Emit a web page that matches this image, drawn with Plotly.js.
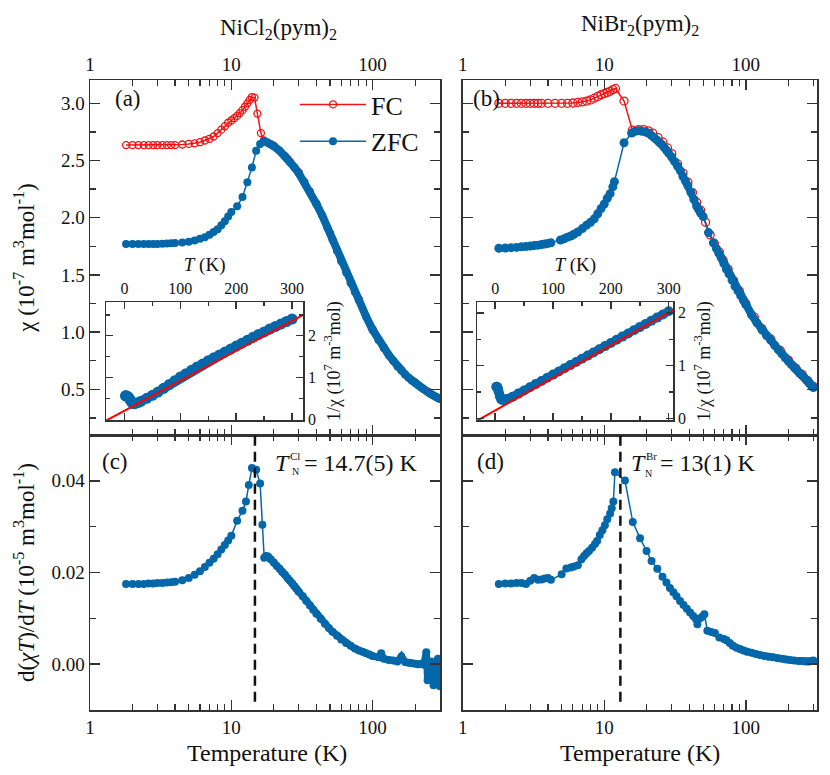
<!DOCTYPE html>
<html>
<head>
<meta charset="utf-8">
<script src="https://cdn.plot.ly/plotly-3.0.1.min.js"></script>
<style>body{margin:0;background:#fff}</style>
</head>
<body>
<div id="myPlot" style="width:830px;height:775px;"></div>
<script>
// NiCl2(pym)2 -- chi (1e-7 m^3/mol) vs T (K)
var tFcCl = [1.8,2.0,2.2,2.4,2.6,2.8,3.0,3.25,3.5,3.75,4.0,4.5,5.0,5.5,6.0,6.5,7.0,7.5,8.0,8.5,9.0,9.5,10,10.5,11,11.5,12,12.5,13,13.5,14,14.6,15.3,16.2,17,20,25,30,40,50,60,70,80,100,120,150,200,250,300];
var chiFcCl = [2.635,2.635,2.635,2.635,2.635,2.635,2.635,2.635,2.635,2.635,2.635,2.64,2.645,2.65,2.66,2.675,2.69,2.71,2.74,2.77,2.80,2.83,2.85,2.87,2.89,2.915,2.94,2.97,3.00,3.03,3.055,3.05,2.91,2.74,2.675,2.63,2.515,2.395,2.125,1.865,1.625,1.435,1.285,1.025,0.865,0.705,0.56,0.475,0.42];
var tZfcCl = [1.8,2.0,2.2,2.4,2.6,2.8,3.0,3.25,3.5,3.75,4.0,4.5,5.0,5.5,6.0,6.5,7.0,7.5,8.0,8.5,9.0,9.5,10,11,12,13,14,15,16,17,18,19,20,22,24,26,28,30,33,36,40,44,48,52,56,60,65,70,75,80,90,100,110,120,130,140,150,160,170,180,190,200,210,220,230,240,250,260,270,280,290,300];
var chiZfcCl = [1.77,1.77,1.77,1.77,1.77,1.77,1.77,1.772,1.774,1.776,1.778,1.783,1.79,1.80,1.815,1.83,1.85,1.875,1.90,1.935,1.97,2.01,2.05,2.10,2.18,2.31,2.44,2.585,2.645,2.67,2.66,2.645,2.625,2.585,2.54,2.49,2.44,2.39,2.31,2.23,2.12,2.02,1.91,1.81,1.71,1.62,1.52,1.43,1.35,1.28,1.135,1.02,0.93,0.86,0.80,0.75,0.70,0.665,0.63,0.60,0.575,0.555,0.535,0.515,0.50,0.485,0.47,0.457,0.445,0.434,0.424,0.415];

// NiBr2(pym)2
var tFcBr = [1.8,2.0,2.2,2.4,2.6,2.8,3.0,3.2,3.4,3.6,4.0,4.5,5.0,5.5,6.0,6.5,7.0,7.5,8.0,8.5,9.0,9.5,10,10.5,11,11.5,12,13.8,15.8,17.5,19,20.5,22,24,26,28,30,33,36,39,42,45,48,52,56,60,65,69,75,82,90,100,115,130,150,175,200,225,250,275,300];
var chiFcBr = [3.0,3.0,3.0,3.0,3.0,3.0,3.0,3.0,3.0,3.0,3.0,3.0,3.0,3.0,3.003,3.008,3.013,3.02,3.03,3.045,3.06,3.075,3.085,3.095,3.105,3.12,3.13,3.02,2.765,2.77,2.77,2.76,2.74,2.70,2.66,2.61,2.56,2.47,2.39,2.31,2.22,2.135,2.065,1.96,1.85,1.775,1.70,1.63,1.55,1.45,1.36,1.25,1.13,1.03,0.94,0.84,0.755,0.685,0.63,0.575,0.525];
var tZfcBr = [1.8,2.0,2.2,2.4,2.6,2.8,3.0,3.2,3.4,3.6,3.8,4.0,4.2,4.9,5.2,5.5,5.8,6.1,6.5,7.0,7.5,8.0,8.5,9.0,9.5,10,10.5,11,11.5,11.8,13.8,15.6,16.5,17.5,18.5,19.5,20.5,21.5,22.5,23.5,24.5,25.5,26.5,27.5,28.5,30,31.5,33,34.5,36,37.5,39,41,43,45,46.5,48,50,54.5,59,62,64.5,67,70,73,76,80,84,88,92,96,100,110,120,130,140,150,160,170,180,190,200,210,220,230,240,250,260,270,280,290,300];
var chiZfcBr = [1.733,1.735,1.738,1.74,1.745,1.748,1.752,1.756,1.76,1.765,1.77,1.775,1.78,1.805,1.815,1.83,1.84,1.855,1.875,1.905,1.935,1.96,1.99,2.035,2.08,2.12,2.17,2.21,2.27,2.315,2.655,2.74,2.755,2.76,2.755,2.75,2.74,2.72,2.70,2.68,2.66,2.64,2.615,2.59,2.565,2.53,2.49,2.45,2.41,2.36,2.32,2.28,2.22,2.16,2.10,2.07,2.04,2.01,1.87,1.78,1.73,1.69,1.65,1.60,1.55,1.51,1.455,1.40,1.36,1.32,1.28,1.24,1.15,1.08,1.02,0.97,0.93,0.885,0.845,0.81,0.775,0.745,0.715,0.69,0.665,0.64,0.62,0.60,0.575,0.555,0.535,0.515];

// d(chi T)/dT (1e-5 m^3/mol)
var tDerCl = [1.8,2.0,2.2,2.4,2.6,2.8,3.0,3.25,3.5,3.75,4.0,4.5,5.0,5.5,6.0,6.5,7.0,7.5,8.0,8.5,9.0,9.5,10,11,12,12.7,13.3,14,15,16,16.6,17.1,17.6,18.2,19,20,21,22,23,24,25,26,27,28,29,30,32,34,36,38,40,43,46,49,52,56,60,65,70,75,80,85,90,95,100,110,115,120,130,140,150,160,170,180,190,200,210,220,230,240,245,250,260,270,280,290,300];
var dchiCl = [.0175,.0175,.0175,.0175,.0176,.0176,.0177,.0177,.0178,.0179,.0180,.0183,.0188,.0195,.0203,.0212,.0221,.0230,.0240,.0250,.0260,.0270,.0280,.0313,.0335,.0355,.0391,.0428,.0424,.0394,.0304,.0232,.0236,.0235,.0229,.0222,.0214,.0208,.0201,.0195,.0188,.0182,.0176,.0170,.0164,.0158,.0148,.0138,.0128,.0119,.0110,.0099,.0088,.0079,.0071,.0062,.0054,.0046,.0040,.0034,.0030,.0027,.0024,.0021,.0018,.0015,.0024,.0012,.0009,.0008,.0006,.0017,.0005,.0003,.0002,.0001,.0000,.0001,-.0001,.0026,-.0035,-.0004,.0006,-.0046,.0003,.0012,-.0048];
var tDerBr = [1.8,2.0,2.2,2.4,2.6,2.8,3.0,3.2,3.4,3.6,3.8,4.0,4.2,5.0,5.4,5.8,6.1,6.5,6.9,7.2,7.5,7.8,8.2,8.6,8.9,9.3,9.7,10.1,10.5,11.0,11.3,11.6,11.9,14.0,15.9,17.9,19.9,21.6,23.7,25.8,27.5,29.1,30.8,32.4,34.3,36.3,38.3,40.4,42.5,44.5,45.5,47.5,49.5,51,53.5,57,60.5,65,70,73,77,81,86,91,96,102,110,118,126,135,145,156,168,180,193,205,220,235,250,265,280,290,300];
var dchiBr = [.0175,.0176,.0176,.0177,.0177,.0175,.0182,.0188,.0184,.0185,.0187,.0188,.0184,.0196,.0209,.0211,.0213,.0216,.0229,.0236,.0242,.0247,.0254,.0262,.0269,.0282,.0292,.0303,.0316,.0329,.0340,.0355,.0419,.0401,.0310,.0275,.0247,.0225,.0208,.0191,.0178,.0166,.0157,.0148,.0138,.0129,.0121,.0113,.0105,.0098,.0087,.0100,.0104,.0109,.0073,.0070,.0068,.0058,.0055,.0052,.0046,.0040,.0036,.0033,.0030,.0027,.0025,.0022,.0020,.0018,.0016,.0015,.0013,.0012,.0010,.0009,.0008,.0007,.0007,.0006,.0006,.0007,.0008];
var TN_CL = 14.7;
var TN_BR = 13;

// insets: 1/chi (1e7 mol/m^3) vs T, with Curie-Weiss fits
var tInvCl = [1.8,3,5,7,9,11,13,15,17,20,25,30,40,50,60,70,80,90,100,110,120,130,140,150,160,170,180,190,200,210,220,230,240,250,260,270,280,290,300];
var invChiCl = [0.56,0.56,0.55,0.53,0.49,0.45,0.41,0.375,0.37,0.38,0.40,0.43,0.50,0.57,0.65,0.74,0.83,0.92,1.01,1.09,1.17,1.25,1.32,1.40,1.47,1.54,1.61,1.68,1.75,1.82,1.89,1.96,2.03,2.09,2.16,2.22,2.28,2.34,2.40];
var fitClT = [-33, 320];
var fitClY = [-0.036, 2.50];
var tInvBr = [1.8,3,4,5,6,8,10,12,15,20,30,40,50,60,70,80,90,100,110,120,130,140,150,160,170,180,190,200,210,220,230,240,250,260,270,280,290,300];
var invChiBr = [0.60,0.60,0.58,0.55,0.50,0.42,0.37,0.35,0.35,0.37,0.41,0.47,0.53,0.59,0.65,0.71,0.77,0.83,0.89,0.95,1.01,1.07,1.13,1.19,1.25,1.31,1.37,1.43,1.49,1.55,1.61,1.67,1.73,1.79,1.85,1.91,1.97,2.03];
var fitBrT = [-31, 308];
var fitBrY = [-0.04, 2.05];

var logMajor = [1, 10, 100];
var logMinor = [2,3,4,5,6,7,8,9,20,30,40,50,60,70,80,90,200,300];

var FONT = "'Liberation Serif', 'Times New Roman', serif";
var RED = "#f01414";
var BLUE = "#0467a9";
var W = 830, H = 775;

function px(x) { return x / W; }
function py(y) { return 1 - y / H; }

// thick line under the densely measured part of a curve (overlapping markers)
function band(t, v, lo, hi, xa, ya, w) {
  var bx = [], by = [];
  for (var i = 0; i < t.length; i++) {
    if (t[i] >= lo && t[i] <= hi) { bx.push(t[i]); by.push(v[i]); }
  }
  return { x: bx, y: by, xaxis: xa, yaxis: ya, mode: "lines", showlegend: false,
    line: { color: BLUE, width: w } };
}

var data = [
  // (a)
  { x: tFcCl, y: chiFcCl, xaxis: "x", yaxis: "y", name: "FC", mode: "lines+markers",
    line: { color: RED, width: 1.5 },
    marker: { symbol: "circle-open", size: 7, color: RED, line: { width: 1.3 } } },
  band(tZfcCl, chiZfcCl, 17, 300, "x", "y", 8),
  { x: tZfcCl, y: chiZfcCl, xaxis: "x", yaxis: "y", name: "ZFC", mode: "lines+markers",
    line: { color: BLUE, width: 1.5 }, marker: { size: 8, color: BLUE } },
  // (b)
  { x: tFcBr, y: chiFcBr, xaxis: "x3", yaxis: "y3", mode: "lines+markers", showlegend: false,
    line: { color: RED, width: 1.5 },
    marker: { symbol: "circle-open", size: 8, color: RED, line: { width: 1.3 } } },
  band(tZfcBr, chiZfcBr, 15.6, 46.5, "x3", "y3", 7),
  band(tZfcBr, chiZfcBr, 64.5, 300, "x3", "y3", 8),
  { x: tZfcBr, y: chiZfcBr, xaxis: "x3", yaxis: "y3", mode: "lines+markers", showlegend: false,
    line: { color: BLUE, width: 1.5 }, marker: { size: 9, color: BLUE } },
  // (c)
  band(tDerCl, dchiCl, 17.6, 300, "x2", "y2", 7),
  { x: tDerCl, y: dchiCl, xaxis: "x2", yaxis: "y2", mode: "lines+markers", showlegend: false,
    line: { color: BLUE, width: 1.5 }, marker: { size: 8, color: BLUE } },
  // (d)
  band(tDerBr, dchiBr, 77, 300, "x4", "y4", 7),
  { x: tDerBr, y: dchiBr, xaxis: "x4", yaxis: "y4", mode: "lines+markers", showlegend: false,
    line: { color: BLUE, width: 1.5 }, marker: { size: 8, color: BLUE } },
  // insets
  { x: tInvCl, y: invChiCl, xaxis: "x5", yaxis: "y5", mode: "lines+markers", showlegend: false,
    line: { color: BLUE, width: 9 }, marker: { size: 11, color: BLUE } },
  { x: fitClT, y: fitClY, xaxis: "x5", yaxis: "y5", mode: "lines", showlegend: false,
    line: { color: "#ff0000", width: 2 } },
  { x: tInvBr, y: invChiBr, xaxis: "x6", yaxis: "y6", mode: "lines+markers", showlegend: false,
    line: { color: BLUE, width: 8 }, marker: { size: 10, color: BLUE } },
  { x: fitBrT, y: fitBrY, xaxis: "x6", yaxis: "y6", mode: "lines", showlegend: false,
    line: { color: "#ff0000", width: 2 } }
];

function axis(opts) {
  var base = {
    showline: true, linecolor: "#333", linewidth: 1.5, mirror: "ticks",
    ticks: "inside", tickcolor: "#333", tickwidth: 1.5, ticklen: 10,
    showgrid: false, zeroline: false,
    tickfont: { family: FONT, size: 19, color: "#111" }
  };
  for (var k in opts) base[k] = opts[k];
  return base;
}

function logAxis(opts) {
  var a = axis({
    type: "log", tickmode: "array", tickvals: logMajor, ticktext: logMajor.map(String),
    minor: { tickmode: "array", tickvals: logMinor, ticks: "inside", ticklen: 6, tickcolor: "#333", tickwidth: 1.2 }
  });
  for (var k in opts) a[k] = opts[k];
  return a;
}

var chiTitle = { text: "\u03c7 (10<sup>-7</sup> m<sup>3</sup>mol<sup>-1</sup>)", font: { family: FONT, size: 23, color: "#111" } };
var derTitle = { text: "d(<i>\u03c7T</i>)/d<i>T</i> (10<sup>-5</sup> m<sup>3</sup>mol<sup>-1</sup>)", font: { family: FONT, size: 23, color: "#111" } };
var insetX = { text: "<i>T</i> (K)", font: { family: FONT, size: 19, color: "#111" }, standoff: 4 };
var insetY = { text: "1/\u03c7 (10<sup>7</sup> m<sup>-3</sup>mol)", font: { family: FONT, size: 18, color: "#111" }, standoff: 12 };

var leftX = [px(90), px(440)];
var rightX = [px(462.7), px(817.3)];
var topY = [py(435), py(80)];
var botY = [py(710), py(435)];

var chiRange = [0.1, 3.204];
var derRange = [-0.01, 0.05];

var layout = {
  width: W, height: H,
  margin: { l: 0, r: 0, t: 0, b: 0 },
  paper_bgcolor: "#fff", plot_bgcolor: "#fff",
  font: { family: FONT, color: "#111" },
  showlegend: true,
  legend: {
    x: px(295), y: py(81), xanchor: "left", yanchor: "top",
    bgcolor: "rgba(0,0,0,0)", itemwidth: 66, tracegroupgap: 0,
    font: { family: FONT, size: 26, color: "#111" }
  },
  xaxis: logAxis({ domain: leftX, anchor: "y", side: "top", range: [0, Math.log10(300)] }),
  yaxis: axis({ domain: topY, anchor: "x", range: chiRange, dtick: 0.5, tick0: 0, tickformat: ".1f",
    minor: { dtick: 0.25, ticks: "inside", ticklen: 6, tickcolor: "#333" }, title: chiTitle }),
  xaxis2: logAxis({ domain: leftX, anchor: "y2", side: "bottom", range: [0, Math.log10(300)] }),
  yaxis2: axis({ domain: botY, anchor: "x2", range: derRange, dtick: 0.02, tick0: 0, tickformat: ".2f",
    minor: { dtick: 0.01, ticks: "inside", ticklen: 6, tickcolor: "#333" }, title: derTitle }),
  xaxis3: logAxis({ domain: rightX, anchor: "y3", side: "top", range: [0, Math.log10(320)] }),
  yaxis3: axis({ domain: topY, anchor: "x3", range: chiRange, dtick: 0.5, tick0: 0, showticklabels: false,
    minor: { dtick: 0.25, ticks: "inside", ticklen: 6, tickcolor: "#333" } }),
  xaxis4: logAxis({ domain: rightX, anchor: "y4", side: "bottom", range: [0, Math.log10(320)] }),
  yaxis4: axis({ domain: botY, anchor: "x4", range: derRange, dtick: 0.02, tick0: 0, showticklabels: false,
    minor: { dtick: 0.01, ticks: "inside", ticklen: 6, tickcolor: "#333" } }),
  xaxis5: axis({ domain: [px(106), px(303.3)], anchor: "y5", side: "top", range: [-33, 320],
    tickvals: [0, 100, 200, 300], ticklen: 7, tickfont: { family: FONT, size: 16, color: "#111" },
    minor: { dtick: 50, tick0: 0, ticks: "inside", ticklen: 4, tickcolor: "#333" }, title: insetX }),
  yaxis5: axis({ domain: [py(420), py(302.3)], anchor: "x5", side: "right", range: [-0.02, 2.8],
    dtick: 1, tick0: 0, ticklen: 7, tickfont: { family: FONT, size: 16, color: "#111" },
    minor: { dtick: 0.5, ticks: "inside", ticklen: 4, tickcolor: "#333" }, title: insetY }),
  xaxis6: axis({ domain: [px(477.3), px(673.3)], anchor: "y6", side: "top", range: [-31, 308],
    tickvals: [0, 100, 200, 300], ticklen: 7, tickfont: { family: FONT, size: 16, color: "#111" },
    minor: { dtick: 50, tick0: 0, ticks: "inside", ticklen: 4, tickcolor: "#333" }, title: insetX }),
  yaxis6: axis({ domain: [py(420), py(302.3)], anchor: "x6", side: "right", range: [-0.03, 2.2],
    dtick: 1, tick0: 0, ticklen: 7, tickfont: { family: FONT, size: 16, color: "#111" },
    minor: { dtick: 0.5, ticks: "inside", ticklen: 4, tickcolor: "#333" }, title: insetY }),
  shapes: [
    { type: "line", xref: "x2", yref: "y2 domain", x0: TN_CL, x1: TN_CL, y0: 0.03, y1: 1,
      line: { color: "#111", width: 2.5, dash: "10px,6px" } },
    { type: "line", xref: "x4", yref: "y4 domain", x0: TN_BR, x1: TN_BR, y0: 0.03, y1: 1,
      line: { color: "#111", width: 2.5, dash: "10px,6px" } }
  ],
  annotations: []
};

function note(x, y, text, size, anchor) {
  layout.annotations.push({
    xref: "paper", yref: "paper", x: px(x), y: py(y), text: text, showarrow: false,
    xanchor: anchor || "center", yanchor: "middle",
    font: { family: FONT, size: size, color: "#111" }
  });
}

note(278, 29, "NiCl<sub>2</sub>(pym)<sub>2</sub>", 23);
note(640, 25, "NiBr<sub>2</sub>(pym)<sub>2</sub>", 23);
note(267, 753, "Temperature (K)", 24);
note(640, 753, "Temperature (K)", 24);
note(128, 99, "(a)", 23);
note(486, 99, "(b)", 23);
note(115, 462, "(c)", 23);
note(490, 462, "(d)", 23);
note(282, 463, "<i>T</i>", 24);
note(294.5, 456.5, "Cl", 11);
note(295.5, 471.5, "N", 10);
note(302, 463, "= 14.7(5) K", 24, "left");
note(638, 463, "<i>T</i>", 24);
note(651.7, 456.5, "Br", 11);
note(648.3, 473, "N", 10);
note(658, 463, "= 13(1) K", 24, "left");

Plotly.newPlot("myPlot", data, layout, { staticPlot: true });
</script>
</body>
</html>
